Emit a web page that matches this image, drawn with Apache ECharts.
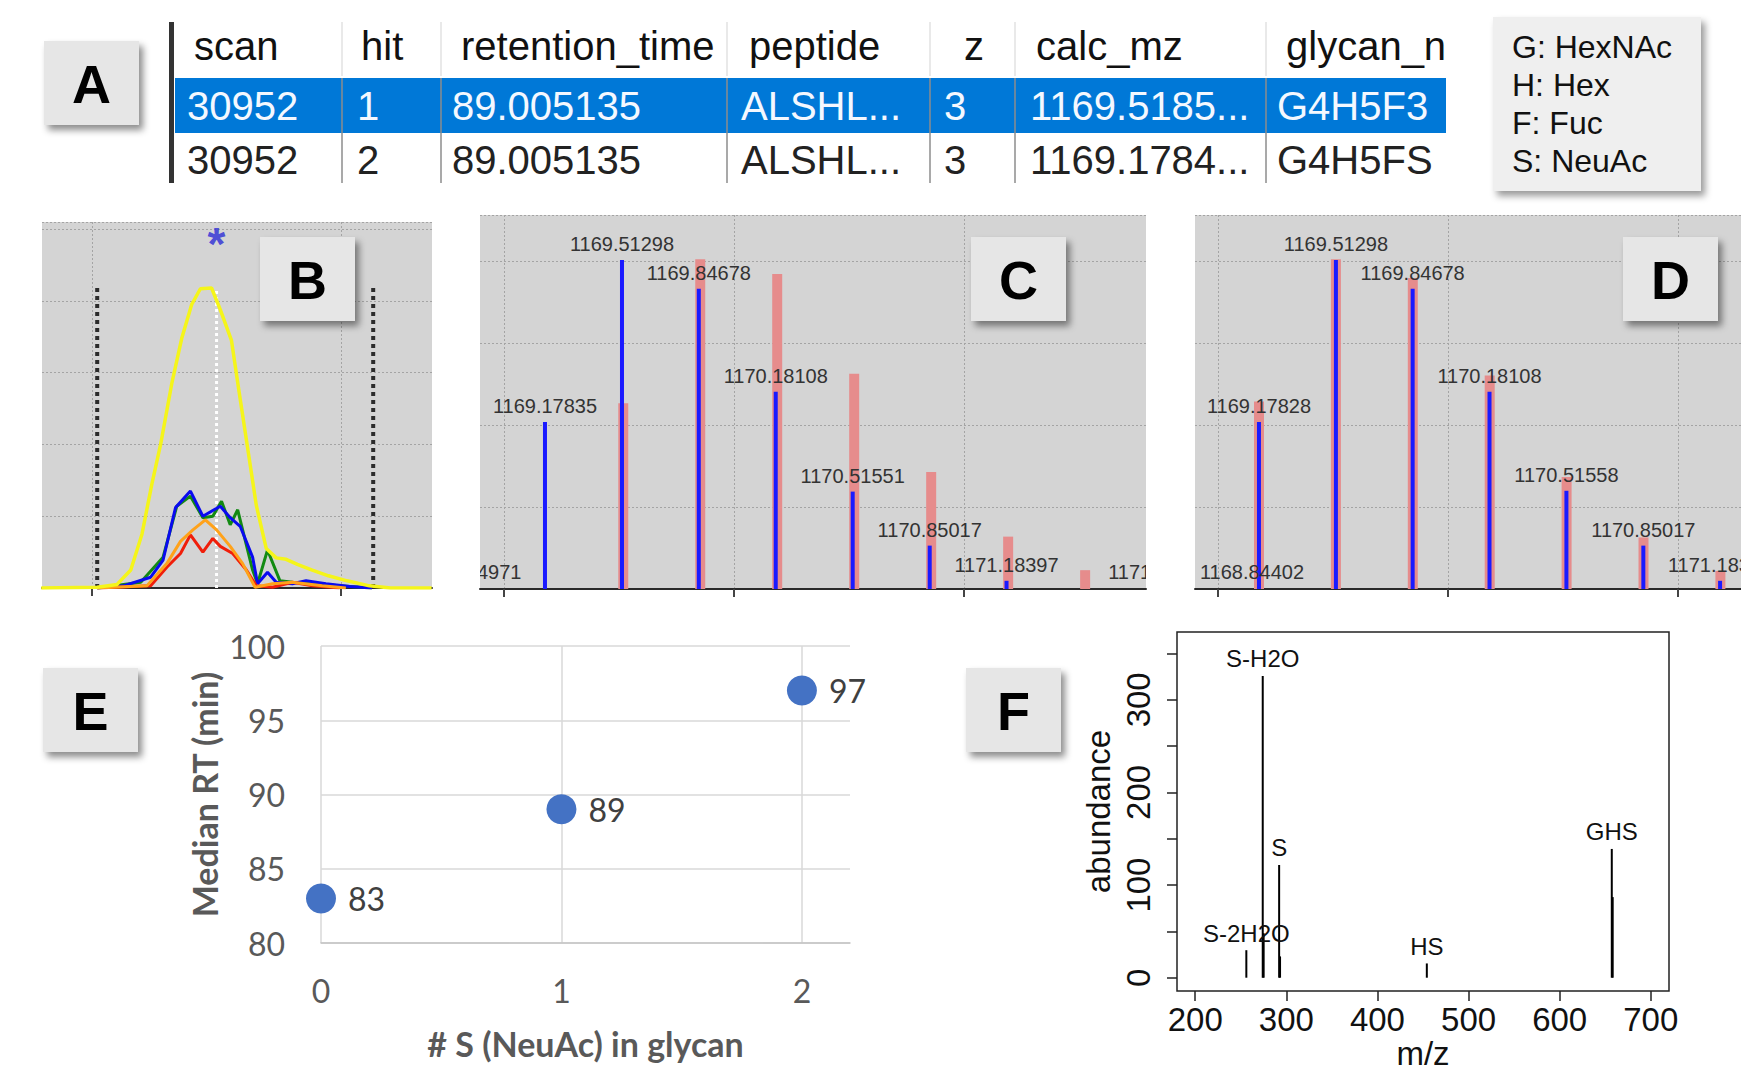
<!DOCTYPE html>
<html>
<head>
<meta charset="utf-8">
<title>Glycopeptide figure</title>
<script src="https://cdn.jsdelivr.net/npm/echarts@6.0.0/dist/echarts.min.js"></script>
<style>
  html, body { margin: 0; padding: 0; background: #fff; }
  #main { width: 1741px; height: 1069px; }
</style>
</head>
<body>
<div id="main"></div>
<script type="text/javascript">
// panel A - search hits table
var tableHeader = ['scan', 'hit', 'retention_time', 'peptide', 'z', 'calc_mz', 'glycan_n'];
var tableRow1 = ['30952', '1', '89.005135', 'ALSHL...', '3', '1169.5185...', 'G4H5F3'];
var tableRow2 = ['30952', '2', '89.005135', 'ALSHL...', '3', '1169.1784...', 'G4H5FS'];
var glycanKey = ['G: HexNAc', 'H: Hex', 'F: Fuc', 'S: NeuAc'];

// panel B - extracted ion chromatograms, [rt (min), intensity]
var xicYellow = [[87.59,0],[88.04,0.01],[88.20,0.05],[88.31,0.25],[88.40,0.75],[88.48,1.45],[88.55,2.0],[88.64,2.85],[88.72,3.48],[88.80,3.95],[88.87,4.17],[88.96,4.18],[89.03,3.88],[89.12,3.45],[89.18,2.75],[89.25,1.95],[89.32,1.15],[89.40,0.55],[89.48,0.42],[89.56,0.40],[89.65,0.33],[89.77,0.25],[89.90,0.17],[90.05,0.10],[90.23,0.03],[90.40,0],[90.73,0]];
var xicGreen = [[88.04,0],[88.39,0.08],[88.57,0.43],[88.68,1.14],[88.79,1.28],[88.89,0.98],[88.97,1.0],[89.04,1.21],[89.11,0.88],[89.17,1.09],[89.29,0.25],[89.33,0.06],[89.41,0.53],[89.51,0.10],[89.61,0.08],[89.99,0.03],[90.25,0]];
var xicBlue = [[88.04,0],[88.25,0.03],[88.47,0.15],[88.57,0.39],[88.67,1.12],[88.79,1.35],[88.89,1.0],[89.03,1.14],[89.11,0.98],[89.19,0.86],[89.29,0.43],[89.33,0.06],[89.41,0.22],[89.48,0.08],[89.61,0.06],[89.72,0.10],[89.88,0.06],[90.07,0.02],[90.25,0]];
var xicOrange = [[88.04,0],[88.44,0.03],[88.60,0.34],[88.71,0.65],[88.81,0.81],[88.91,0.95],[89.0,0.81],[89.11,0.58],[89.21,0.34],[89.31,0.01],[89.45,0.06],[89.61,0.08],[89.85,0.03],[90.04,0]];
var xicRed = [[88.04,0],[88.47,0.03],[88.60,0.29],[88.71,0.48],[88.79,0.74],[88.89,0.5],[88.97,0.69],[89.03,0.58],[89.13,0.48],[89.24,0.25],[89.32,0.03],[89.45,0.01],[89.61,0.08],[89.77,0.03],[89.99,0]];
var rtApex = 89.0;
var rtBounds = [88.04, 90.26];
var boundTop = 4.18;

// panel C - observed peaks vs theoretical envelope of hit 1
var obsMzC = [1168.84971, 1169.17835, 1169.51298, 1169.84678, 1170.18108, 1170.51551, 1170.85017, 1171.18397, 1171.85200];
var obsIntC = [0.01, 2.04, 4.02, 3.67, 2.41, 1.19, 0.53, 0.10, 0.01];
var theoMzC = [1169.5185, 1169.8530, 1170.1875, 1170.5220, 1170.8565, 1171.1910, 1171.5255];
var theoIntC = [2.27, 4.03, 3.85, 2.63, 1.43, 0.64, 0.23];

// panel D - observed peaks vs theoretical envelope of hit 2
var obsMzD = [1168.84402, 1169.17828, 1169.51298, 1169.84678, 1170.18108, 1170.51558, 1170.85017, 1171.18397];
var obsIntD = [0.01, 2.04, 4.02, 3.67, 2.41, 1.20, 0.53, 0.10];
var theoMzD = [1169.1784, 1169.5129, 1169.8474, 1170.1819, 1170.5164, 1170.8509, 1171.1854];
var theoIntD = [2.29, 4.03, 3.80, 2.61, 1.37, 0.63, 0.22];

// panel E - median retention time by sialic acid count
var sialicCount = [0, 1, 2];
var medianRT = [83, 89, 97];

// panel F - oxonium ions
var fragMz = [256.1, 274.1, 275.1, 292.1, 293.1, 454.2, 657.2, 658.2];
var fragAbund = [29.7, 325.8, 48, 121.7, 23, 15.4, 139, 87];
var fragLabel = ['S-2H2O', 'S-H2O', '', 'S', '', 'HS', 'GHS', ''];

var sansFont = '"Liberation Sans", Arial, sans-serif';
var excelFont = 'Lato, "Open Sans", sans-serif';
var dotted = { color: '#a4a4a4', width: 1, type: [2, 2] };

function stickSeries(idx, mz, inten, color, width, z) {
    return {
        type: 'custom', xAxisIndex: idx, yAxisIndex: idx, clip: true, z: z, silent: true,
        data: mz.map(function (m, i) { return [m, inten[i]]; }),
        renderItem: function (params, api) {
            var base = api.coord([api.value(0), 0]);
            var top = api.coord([api.value(0), api.value(1)]);
            return {
                type: 'rect',
                shape: { x: base[0] - width / 2, y: top[1], width: width, height: base[1] - top[1] },
                style: { fill: color }
            };
        }
    };
}

function labelSeries(idx, mz, inten, texts, opt) {
    return {
        type: 'custom', xAxisIndex: idx, yAxisIndex: idx, clip: true, z: 6, silent: true,
        data: mz.map(function (m, i) { return [m, inten[i]]; }),
        renderItem: function (params, api) {
            var t = texts[params.dataIndex];
            if (!t) return null;
            var p = api.coord([api.value(0), api.value(1)]);
            var x = p[0];
            if (opt.keepInside) x = Math.max(x, params.coordSys.x + opt.halfWidth + 5);
            return {
                type: 'text', x: x, y: p[1] - opt.gap,
                style: {
                    text: t, fill: opt.color, font: opt.font,
                    align: 'center', verticalAlign: 'bottom',
                    textAlign: 'center', textVerticalAlign: 'bottom'
                }
            };
        }
    };
}

function xicLine(data, color, width) {
    return {
        type: 'line', xAxisIndex: 0, yAxisIndex: 0, data: data, showSymbol: false,
        lineStyle: { color: color, width: width }, z: 3, silent: true
    };
}

function vline(x, color, width) {
    return {
        type: 'line', xAxisIndex: 0, yAxisIndex: 0, data: [[x, 0], [x, boundTop]], showSymbol: false,
        lineStyle: { color: color, width: width, type: 'dotted' }, z: 2, silent: true
    };
}

function badge(letter, x, y) {
    return [
        { type: 'rect', z: 100, shape: { x: x, y: y, width: 95, height: 84 },
          style: { fill: '#e6e6e6', shadowBlur: 7, shadowOffsetX: 4, shadowOffsetY: 5, shadowColor: 'rgba(0,0,0,0.45)' } },
        { type: 'text', z: 101, x: x + 47.5, y: y + 43,
          style: { text: letter, font: 'bold 54px ' + sansFont, fill: '#000',
                   align: 'center', verticalAlign: 'middle', textAlign: 'center', textVerticalAlign: 'middle' } }
    ];
}

function tableGraphics() {
    var colX = [194, 361, 461, 749, 964, 1036, 1286];
    var valX = [187, 357, 452, 741, 944, 1030, 1277];
    var seps = [342, 441, 727, 930, 1015, 1266];
    var els = [];
    els.push({ type: 'rect', z: 10, shape: { x: 175, y: 78, width: 1271, height: 55 }, style: { fill: '#0078d7' } });
    seps.forEach(function (sx) {
        els.push({ type: 'line', z: 11, shape: { x1: sx, y1: 22, x2: sx, y2: 76 }, style: { stroke: '#e2e2e2', lineWidth: 1.5 } });
        els.push({ type: 'line', z: 11, shape: { x1: sx, y1: 78, x2: sx, y2: 183 }, style: { stroke: '#8c8c8c', lineWidth: 1.5 } });
    });
    els.push({ type: 'rect', z: 12, shape: { x: 169, y: 22, width: 5, height: 161 }, style: { fill: '#333' } });
    function cell(text, x, y, color) {
        els.push({ type: 'text', z: 13, x: x, y: y,
            style: { text: text, font: '40px ' + sansFont, fill: color,
                     align: 'left', verticalAlign: 'middle', textAlign: 'left', textVerticalAlign: 'middle' } });
    }
    tableHeader.forEach(function (t, i) { cell(t, colX[i], 46, '#111'); });
    tableRow1.forEach(function (t, i) { cell(t, valX[i], 106, '#f4f8ff'); });
    tableRow2.forEach(function (t, i) { cell(t, valX[i], 160, '#222'); });
    return els;
}

function keyGraphics() {
    var els = [{ type: 'rect', z: 10, shape: { x: 1493, y: 17, width: 208, height: 174 },
        style: { fill: '#efefef', shadowBlur: 7, shadowOffsetX: 4, shadowOffsetY: 5, shadowColor: 'rgba(0,0,0,0.4)' } }];
    glycanKey.forEach(function (t, i) {
        els.push({ type: 'text', z: 11, x: 1512, y: 47 + i * 38,
            style: { text: t, font: '32px ' + sansFont, fill: '#111',
                     align: 'left', verticalAlign: 'middle', textAlign: 'left', textVerticalAlign: 'middle' } });
    });
    return els;
}

function specAxisX(idx, min, max) {
    return {
        gridIndex: idx, type: 'value', min: min, max: max,
        axisLine: { onZero: false, lineStyle: { color: '#2a2a2a', width: 2 } },
        axisTick: { show: true, customValues: [1169, 1170, 1171], length: 8, lineStyle: { color: '#444', width: 2 } },
        axisLabel: { show: false },
        splitLine: { show: true, lineStyle: dotted }
    };
}
function specAxisY(idx, max) {
    return {
        gridIndex: idx, type: 'value', min: 0, max: max, interval: 1,
        axisLine: { show: false }, axisTick: { show: false }, axisLabel: { show: false },
        splitLine: { show: true, lineStyle: dotted }
    };
}

var myChart = echarts.init(document.getElementById('main'), null, { renderer: 'svg' });

var option = {
    animation: false,
    backgroundColor: '#fff',
    grid: [
        { left: 42, top: 222, width: 390, height: 366, show: true, backgroundColor: '#d4d4d4', borderWidth: 0, containLabel: false, outerBoundsMode: 'none' },
        { left: 480, top: 215, width: 666, height: 374, show: true, backgroundColor: '#d4d4d4', borderWidth: 0, containLabel: false, outerBoundsMode: 'none' },
        { left: 1195, top: 215, width: 546, height: 374, show: true, backgroundColor: '#d4d4d4', borderWidth: 0, containLabel: false, outerBoundsMode: 'none' },
        { left: 321, top: 646, width: 529, height: 297, containLabel: false, outerBoundsMode: 'none' },
        { left: 1177, top: 632, width: 492, height: 359, show: true, backgroundColor: 'transparent', borderColor: '#222', borderWidth: 1.5, containLabel: false, outerBoundsMode: 'none' }
    ],
    xAxis: [
        {
            gridIndex: 0, type: 'value', min: 87.596, max: 90.733,
            axisLine: { onZero: false, lineStyle: { color: '#2a2a2a', width: 2 } },
            axisTick: { show: true, customValues: [88, 90], length: 8, lineStyle: { color: '#444', width: 2 } },
            axisLabel: { show: false },
            splitLine: { show: true, lineStyle: dotted }
        },
        specAxisX(1, 1168.896, 1171.79),
        specAxisX(2, 1168.90, 1171.275),
        {
            gridIndex: 3, type: 'value', min: 0, max: 2.2,
            axisLine: { onZero: false, lineStyle: { color: '#c4c4c4', width: 1.5 } },
            axisTick: { show: false, customValues: [0, 1, 2] },
            axisLabel: { customValues: [0, 1, 2], margin: 31, fontFamily: excelFont, fontSize: 32, color: '#595959' },
            splitLine: { show: true, lineStyle: { color: '#d9d9d9', width: 1.5 } },
            name: '# S (NeuAc) in glycan', nameLocation: 'middle', nameGap: 83,
            nameTextStyle: { fontFamily: excelFont, fontWeight: 'bold', fontSize: 34, color: '#595959' }
        },
        {
            gridIndex: 4, type: 'value', min: 180, max: 720,
            axisLine: { show: false, onZero: false },
            axisTick: { show: true, customValues: [200, 300, 400, 500, 600, 700], length: 10, lineStyle: { color: '#222', width: 1.5 } },
            axisLabel: { customValues: [200, 300, 400, 500, 600, 700], margin: 12, fontFamily: sansFont, fontSize: 33, color: '#111' },
            splitLine: { show: false },
            name: 'm/z', nameLocation: 'middle', nameGap: 40,
            nameTextStyle: { fontFamily: sansFont, fontSize: 33, color: '#111' }
        }
    ],
    yAxis: [
        {
            gridIndex: 0, type: 'value', min: 0, max: 5.1, interval: 1,
            axisLine: { show: false }, axisTick: { show: false }, axisLabel: { show: false },
            splitLine: { show: true, lineStyle: dotted }
        },
        specAxisY(1, 4.57),
        specAxisY(2, 4.57),
        {
            gridIndex: 3, type: 'value', min: 80, max: 100, interval: 5,
            axisLine: { show: false }, axisTick: { show: false },
            axisLabel: { margin: 36, fontFamily: excelFont, fontSize: 32, color: '#595959' },
            splitLine: { show: true, lineStyle: { color: '#d9d9d9', width: 1.5 } },
            name: 'Median RT (min)', nameLocation: 'middle', nameGap: 100,
            nameTextStyle: { fontFamily: excelFont, fontWeight: 'bold', fontSize: 34, color: '#595959' }
        },
        {
            gridIndex: 4, type: 'value', min: -14.35, max: 373.2,
            axisLine: { show: false, onZero: false },
            axisTick: { show: true, customValues: [0, 50, 100, 150, 200, 250, 300, 350], length: 10, lineStyle: { color: '#222', width: 1.5 } },
            axisLabel: { customValues: [0, 100, 200, 300], rotate: 90, margin: 22, fontFamily: sansFont, fontSize: 33, color: '#111' },
            splitLine: { show: false },
            name: 'abundance', nameLocation: 'middle', nameGap: 62,
            nameTextStyle: { fontFamily: sansFont, fontSize: 33, color: '#111' }
        }
    ],
    series: [
        // B
        vline(rtBounds[0], '#2b2b2b', 4),
        vline(rtBounds[1], '#2b2b2b', 4),
        vline(rtApex, '#ffffff', 3),
        xicLine(xicGreen, '#138a13', 3),
        xicLine(xicBlue, '#0a0af0', 3),
        xicLine(xicRed, '#f01e0a', 3),
        xicLine(xicOrange, '#ffa21a', 3),
        xicLine(xicYellow, '#f5f51a', 3.5),
        {
            type: 'scatter', xAxisIndex: 0, yAxisIndex: 0, data: [[rtApex, 4.8]], symbolSize: 1,
            itemStyle: { color: 'transparent' }, clip: false, silent: true,
            label: { show: true, position: 'inside', formatter: '*', fontSize: 46, fontWeight: 'bold', color: '#2a2ad6', fontFamily: sansFont }
        },
        // C
        stickSeries(1, theoMzC, theoIntC, '#e68c8c', 10, 3),
        stickSeries(1, obsMzC, obsIntC, '#1a1aff', 4, 4),
        labelSeries(1, obsMzC, obsIntC, obsMzC.map(function (m) { return m.toFixed(5); }),
            { gap: 6, color: '#333', font: '20px ' + sansFont, keepInside: false }),
        // D
        stickSeries(2, theoMzD, theoIntD, '#e68c8c', 10, 3),
        stickSeries(2, obsMzD, obsIntD, '#1a1aff', 4, 4),
        labelSeries(2, obsMzD, obsIntD, obsMzD.map(function (m) { return m.toFixed(5); }),
            { gap: 6, color: '#333', font: '20px ' + sansFont, keepInside: true, halfWidth: 52 }),
        // E
        {
            type: 'scatter', xAxisIndex: 3, yAxisIndex: 3, clip: false, symbolSize: 30,
            data: sialicCount.map(function (s, i) { return [s, medianRT[i]]; }),
            itemStyle: { color: '#4472c4', opacity: 1 },
            label: { show: true, position: 'right', distance: 12, formatter: function (p) { return p.value[1]; },
                     fontFamily: excelFont, fontSize: 32, color: '#404040' }
        },
        // F
        stickSeries(4, fragMz, fragAbund, '#000', 2, 3),
        labelSeries(4, fragMz, fragAbund, fragLabel,
            { gap: 5, color: '#111', font: '24px ' + sansFont, keepInside: false })
    ],
    graphic: {
        elements: [].concat(
            tableGraphics(),
            keyGraphics(),
            badge('A', 44, 41),
            badge('B', 260, 237),
            badge('C', 971, 237),
            badge('D', 1623, 237),
            badge('E', 43, 668),
            badge('F', 966, 668)
        )
    }
};

myChart.setOption(option);
</script>
</body>
</html>
